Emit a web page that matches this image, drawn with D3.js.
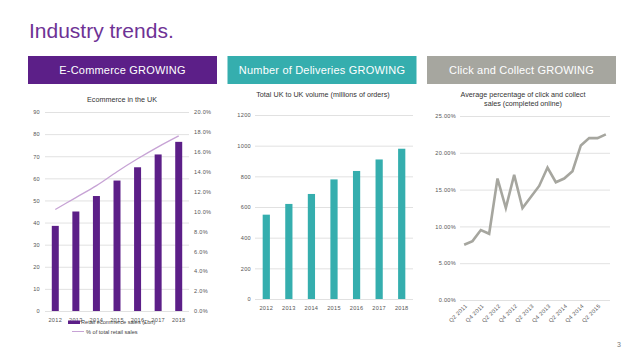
<!DOCTYPE html>
<html>
<head>
<meta charset="utf-8">
<script src="https://cdn.jsdelivr.net/npm/d3@7"></script>
<style>
  body { margin: 0; background: #fff; }
  svg { font-family: "Liberation Sans", Arial, sans-serif; }
  .tick text { fill: #555; font-size: 5.6px; letter-spacing: 0.3px; }
  .grid line { stroke: #d9d9d9; stroke-width: 0.8; }
</style>
</head>
<body>
<svg id="slide" width="638" height="359"></svg>
<script>
// Data
const banners = ["E-Commerce GROWING", "Number of Deliveries GROWING", "Click and Collect GROWING"];
const bannerColors = ["#5c1f88", "#35aeae", "#a6a69f"];

const years = ["2012", "2013", "2014", "2015", "2016", "2017", "2018"];
const ecomSales = [38.5, 45, 52, 59, 65, 70.8, 76.5];
const ecomShare = [0.102, 0.114, 0.126, 0.140, 0.153, 0.165, 0.176];

const deliveries = [550, 620, 685, 780, 835, 910, 980];

const quarters = ["Q2 2011", "Q3 2011", "Q4 2011", "Q1 2012", "Q2 2012", "Q3 2012", "Q4 2012",
  "Q1 2013", "Q2 2013", "Q3 2013", "Q4 2013", "Q1 2014", "Q2 2014", "Q3 2014", "Q4 2014",
  "Q1 2015", "Q2 2015", "Q3 2015"];
const clickCollect = [0.075, 0.080, 0.095, 0.090, 0.165, 0.125, 0.170, 0.125, 0.140, 0.155,
  0.180, 0.160, 0.165, 0.175, 0.210, 0.220, 0.220, 0.225];

const svg = d3.select("#slide");

// Title
svg.append("text")
  .attr("x", 29).attr("y", 37.5)
  .attr("fill", "#6e3295")
  .style("font-size", "21px")
  .text("Industry trends.");

// Banners
banners.forEach((b, i) => {
  const bx = 28 + i * 199.5;
  svg.append("rect")
    .attr("x", bx).attr("y", 56)
    .attr("width", 189).attr("height", 28)
    .attr("fill", bannerColors[i]);
  svg.append("text")
    .attr("x", bx + 94.5).attr("y", 74.3)
    .attr("text-anchor", "middle")
    .attr("fill", "#fff")
    .style("font-size", "11px")
    .style("letter-spacing", "0.2px")
    .text(b);
});

function chartTitle(lines, cx, y) {
  lines.forEach((l, i) => {
    svg.append("text")
      .attr("x", cx).attr("y", y + i * 8.5)
      .attr("text-anchor", "middle")
      .attr("fill", "#333")
      .style("font-size", "7.2px")
      .text(l);
  });
}

function clean(g) {
  g.select(".domain").remove();
  g.selectAll(".tick line").attr("stroke", "#d9d9d9").attr("stroke-width", 0.8);
}

// ---- Chart 1: Ecommerce in the UK ----
chartTitle(["Ecommerce in the UK"], 122, 102);

const x1 = d3.scaleBand().domain(years).range([45, 189]).paddingInner(0.66).paddingOuter(0.33);
const y1 = d3.scaleLinear().domain([0, 90]).range([311, 112]);
const y1r = d3.scaleLinear().domain([0, 0.2]).range([311, 112]);

svg.append("g").attr("class", "grid")
  .attr("transform", "translate(45,0)")
  .call(d3.axisLeft(y1).tickValues(d3.range(0, 91, 10)).tickSize(-144).tickPadding(5))
  .call(clean);

svg.append("g")
  .attr("transform", "translate(189,0)")
  .call(d3.axisRight(y1r).tickValues(d3.range(0, 0.201, 0.02)).tickSize(0).tickPadding(5).tickFormat(d3.format(".1%")))
  .call(g => g.select(".domain").remove());

svg.append("g")
  .attr("transform", "translate(0,311)")
  .call(d3.axisBottom(x1).tickSize(0).tickPadding(7))
  .call(g => g.select(".domain").remove());

svg.append("g").selectAll("rect")
  .data(ecomSales)
  .join("rect")
  .attr("x", (d, i) => x1(years[i]))
  .attr("y", d => y1(d))
  .attr("width", x1.bandwidth())
  .attr("height", d => y1(0) - y1(d))
  .attr("fill", "#5c1f88");

svg.append("path")
  .datum(ecomShare)
  .attr("fill", "none")
  .attr("stroke", "#c7a3d5")
  .attr("stroke-width", 1.3)
  .attr("d", d3.line()
    .x((d, i) => x1(years[i]) + x1.bandwidth() / 2)
    .y(d => y1r(d))
    .curve(d3.curveMonotoneX));

// legend
const leg = svg.append("g").style("font-size", "5.6px").attr("fill", "#444");
leg.append("rect").attr("x", 68).attr("y", 320.5).attr("width", 12).attr("height", 3.5).attr("fill", "#5c1f88");
leg.append("text").attr("x", 81).attr("y", 324.3).text("Retail ecommerce sales (£bn)");
leg.append("line").attr("x1", 72).attr("x2", 84).attr("y1", 331.5).attr("y2", 331.5)
  .attr("stroke", "#c7a3d5").attr("stroke-width", 1);
leg.append("text").attr("x", 86).attr("y", 333.5).text("% of total retail sales");

// ---- Chart 2: deliveries ----
chartTitle(["Total UK to UK volume (millions of orders)"], 323, 97);

const x2 = d3.scaleBand().domain(years).range([255, 413]).paddingInner(0.68).paddingOuter(0.34);
const y2 = d3.scaleLinear().domain([0, 1200]).range([299, 115]);

svg.append("g").attr("class", "grid")
  .attr("transform", "translate(255,0)")
  .call(d3.axisLeft(y2).tickValues(d3.range(0, 1201, 200)).tickSize(-158).tickPadding(4).tickFormat(d3.format("d")))
  .call(clean);

svg.append("g")
  .attr("transform", "translate(0,299)")
  .call(d3.axisBottom(x2).tickSize(0).tickPadding(7))
  .call(g => g.select(".domain").remove());

svg.append("g").selectAll("rect")
  .data(deliveries)
  .join("rect")
  .attr("x", (d, i) => x2(years[i]))
  .attr("y", d => y2(d))
  .attr("width", x2.bandwidth())
  .attr("height", d => y2(0) - y2(d))
  .attr("fill", "#35aeae");

// ---- Chart 3: click and collect ----
chartTitle(["Average percentage of click and collect", "sales (completed online)"], 523, 97);

const x3 = d3.scaleBand().domain(quarters).range([460, 610]);
const y3 = d3.scaleLinear().domain([0, 0.25]).range([300, 116]);

svg.append("g").attr("class", "grid")
  .attr("transform", "translate(460,0)")
  .call(d3.axisLeft(y3).tickValues(d3.range(0, 0.251, 0.05)).tickSize(-150).tickPadding(4).tickFormat(d3.format(".2%")))
  .call(clean);

svg.append("g").selectAll("text")
  .data(quarters.filter((q, i) => i % 2 === 0))
  .join("text")
  .attr("transform", d => `translate(${x3(d) + x3.bandwidth() / 2 + 2},${305}) rotate(-45)`)
  .attr("text-anchor", "end")
  .attr("dy", "0.35em")
  .attr("fill", "#555")
  .style("font-size", "5.6px")
  .style("letter-spacing", "0.3px")
  .text(d => d);

svg.append("path")
  .datum(clickCollect)
  .attr("fill", "none")
  .attr("stroke", "#a6a69f")
  .attr("stroke-width", 2.6)
  .attr("stroke-linejoin", "miter")
  .attr("d", d3.line()
    .x((d, i) => x3(quarters[i]) + x3.bandwidth() / 2)
    .y(d => y3(d)));

// page number
svg.append("text")
  .attr("x", 617).attr("y", 347)
  .attr("fill", "#777")
  .style("font-size", "7px")
  .text("3");
</script>
</body>
</html>
